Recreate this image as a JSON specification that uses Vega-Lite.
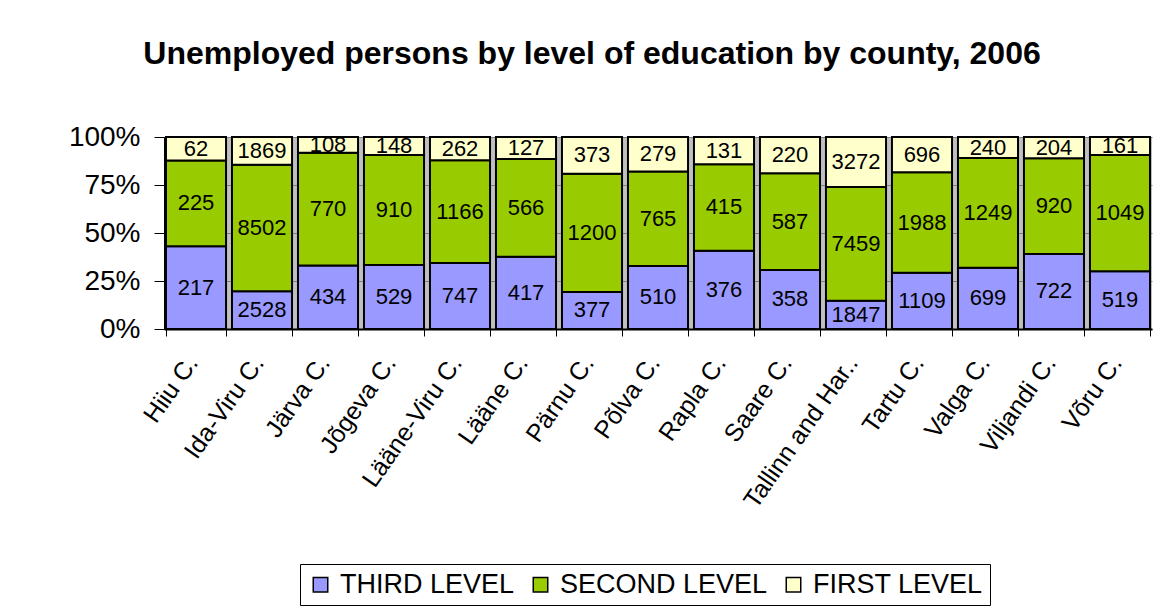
{
  "$schema": "https://vega.github.io/schema/vega-lite/v6.json",
  "autosize": {"type": "none"},
  "padding": {"left": 164, "top": 137, "right": 2, "bottom": 286},
  "width": 988,
  "height": 192,
  "background": "white",
  "title": {
    "text": "Unemployed persons by level of education by county, 2006",
    "font": "Liberation Sans",
    "fontSize": 32,
    "fontWeight": "bold",
    "color": "black",
    "anchor": "middle",
    "frame": "group",
    "dx": -66,
    "offset": 52
  },
  "data": {
    "values": [
      {"county": "Hiiu C.", "level": "THIRD LEVEL", "ord": 1, "n": 217},
      {"county": "Hiiu C.", "level": "SECOND LEVEL", "ord": 2, "n": 225},
      {"county": "Hiiu C.", "level": "FIRST LEVEL", "ord": 3, "n": 62},
      {"county": "Ida-Viru C.", "level": "THIRD LEVEL", "ord": 1, "n": 2528},
      {"county": "Ida-Viru C.", "level": "SECOND LEVEL", "ord": 2, "n": 8502},
      {"county": "Ida-Viru C.", "level": "FIRST LEVEL", "ord": 3, "n": 1869},
      {"county": "Järva C.", "level": "THIRD LEVEL", "ord": 1, "n": 434},
      {"county": "Järva C.", "level": "SECOND LEVEL", "ord": 2, "n": 770},
      {"county": "Järva C.", "level": "FIRST LEVEL", "ord": 3, "n": 108},
      {"county": "Jõgeva C.", "level": "THIRD LEVEL", "ord": 1, "n": 529},
      {"county": "Jõgeva C.", "level": "SECOND LEVEL", "ord": 2, "n": 910},
      {"county": "Jõgeva C.", "level": "FIRST LEVEL", "ord": 3, "n": 148},
      {"county": "Lääne-Viru C.", "level": "THIRD LEVEL", "ord": 1, "n": 747},
      {"county": "Lääne-Viru C.", "level": "SECOND LEVEL", "ord": 2, "n": 1166},
      {"county": "Lääne-Viru C.", "level": "FIRST LEVEL", "ord": 3, "n": 262},
      {"county": "Lääne C.", "level": "THIRD LEVEL", "ord": 1, "n": 417},
      {"county": "Lääne C.", "level": "SECOND LEVEL", "ord": 2, "n": 566},
      {"county": "Lääne C.", "level": "FIRST LEVEL", "ord": 3, "n": 127},
      {"county": "Pärnu C.", "level": "THIRD LEVEL", "ord": 1, "n": 377},
      {"county": "Pärnu C.", "level": "SECOND LEVEL", "ord": 2, "n": 1200},
      {"county": "Pärnu C.", "level": "FIRST LEVEL", "ord": 3, "n": 373},
      {"county": "Põlva C.", "level": "THIRD LEVEL", "ord": 1, "n": 510},
      {"county": "Põlva C.", "level": "SECOND LEVEL", "ord": 2, "n": 765},
      {"county": "Põlva C.", "level": "FIRST LEVEL", "ord": 3, "n": 279},
      {"county": "Rapla C.", "level": "THIRD LEVEL", "ord": 1, "n": 376},
      {"county": "Rapla C.", "level": "SECOND LEVEL", "ord": 2, "n": 415},
      {"county": "Rapla C.", "level": "FIRST LEVEL", "ord": 3, "n": 131},
      {"county": "Saare C.", "level": "THIRD LEVEL", "ord": 1, "n": 358},
      {"county": "Saare C.", "level": "SECOND LEVEL", "ord": 2, "n": 587},
      {"county": "Saare C.", "level": "FIRST LEVEL", "ord": 3, "n": 220},
      {"county": "Tallinn and Har..", "level": "THIRD LEVEL", "ord": 1, "n": 1847},
      {"county": "Tallinn and Har..", "level": "SECOND LEVEL", "ord": 2, "n": 7459},
      {"county": "Tallinn and Har..", "level": "FIRST LEVEL", "ord": 3, "n": 3272},
      {"county": "Tartu C.", "level": "THIRD LEVEL", "ord": 1, "n": 1109},
      {"county": "Tartu C.", "level": "SECOND LEVEL", "ord": 2, "n": 1988},
      {"county": "Tartu C.", "level": "FIRST LEVEL", "ord": 3, "n": 696},
      {"county": "Valga C.", "level": "THIRD LEVEL", "ord": 1, "n": 699},
      {"county": "Valga C.", "level": "SECOND LEVEL", "ord": 2, "n": 1249},
      {"county": "Valga C.", "level": "FIRST LEVEL", "ord": 3, "n": 240},
      {"county": "Viljandi C.", "level": "THIRD LEVEL", "ord": 1, "n": 722},
      {"county": "Viljandi C.", "level": "SECOND LEVEL", "ord": 2, "n": 920},
      {"county": "Viljandi C.", "level": "FIRST LEVEL", "ord": 3, "n": 204},
      {"county": "Võru C.", "level": "THIRD LEVEL", "ord": 1, "n": 519},
      {"county": "Võru C.", "level": "SECOND LEVEL", "ord": 2, "n": 1049},
      {"county": "Võru C.", "level": "FIRST LEVEL", "ord": 3, "n": 161}
    ]
  },
  "encoding": {
    "x": {
      "field": "county",
      "type": "nominal",
      "sort": null,
      "scale": {"paddingInner": 0.09, "paddingOuter": 0.03},
      "axis": {
        "title": null,
        "labelAngle": -55,
        "labelAlign": "right",
        "labelBaseline": "middle",
        "labelFont": "Liberation Sans",
        "labelFontSize": 25,
        "labelColor": "black",
        "labelPadding": 22,
        "labelOffset": -4,
        "tickBand": "extent",
        "tickSize": 7,
        "tickColor": "black",
        "domainColor": "black",
        "domainWidth": 2,
        "labelOverlap": false,
        "labelLimit": 400,
        "grid": false
      }
    },
    "order": {"field": "ord", "type": "quantitative"}
  },
  "layer": [
    {
      "mark": {"type": "bar", "stroke": "black", "strokeWidth": 2},
      "encoding": {
        "y": {
          "field": "n",
          "type": "quantitative",
          "stack": "normalize",
          "scale": {"domain": [0, 1]},
          "axis": {
            "title": null,
            "values": [0, 0.25, 0.5, 0.75, 1],
            "format": ".0%",
            "labelFont": "Liberation Sans",
            "labelFontSize": 28,
            "labelColor": "black",
            "labelPadding": 14,
            "tickSize": 10,
            "tickColor": "black",
            "domainColor": "black",
            "grid": true,
            "gridColor": "#808080",
            "gridWidth": 1
          }
        },
        "color": {
          "field": "level",
          "type": "nominal",
          "sort": ["THIRD LEVEL", "SECOND LEVEL", "FIRST LEVEL"],
          "scale": {
            "domain": ["THIRD LEVEL", "SECOND LEVEL", "FIRST LEVEL"],
            "range": ["#9999FF", "#99CC00", "#FFFFCC"]
          },
          "legend": {
            "title": null,
            "orient": "none",
            "direction": "horizontal",
            "legendX": 136,
            "legendY": 427,
            "strokeColor": "black",
            "fillColor": "white",
            "padding": 7,
            "symbolType": "square",
            "symbolSize": 210,
            "symbolStrokeColor": "black",
            "symbolStrokeWidth": 1.5,
            "symbolOpacity": 1,
            "labelFont": "Liberation Sans",
            "labelFontSize": 27,
            "labelColor": "black",
            "labelOffset": 6,
            "columnPadding": 12,
            "labelLimit": 400
          }
        }
      }
    },
    {
      "mark": {"type": "text", "font": "Liberation Sans", "fontSize": 22, "color": "black", "baseline": "middle"},
      "encoding": {
        "y": {"field": "n", "type": "quantitative", "stack": "normalize", "bandPosition": 0.5},
        "text": {"field": "n", "type": "quantitative", "format": "d"}
      }
    }
  ],
  "config": {
    "view": {"fill": "#C0C0C0", "stroke": null}
  }
}
